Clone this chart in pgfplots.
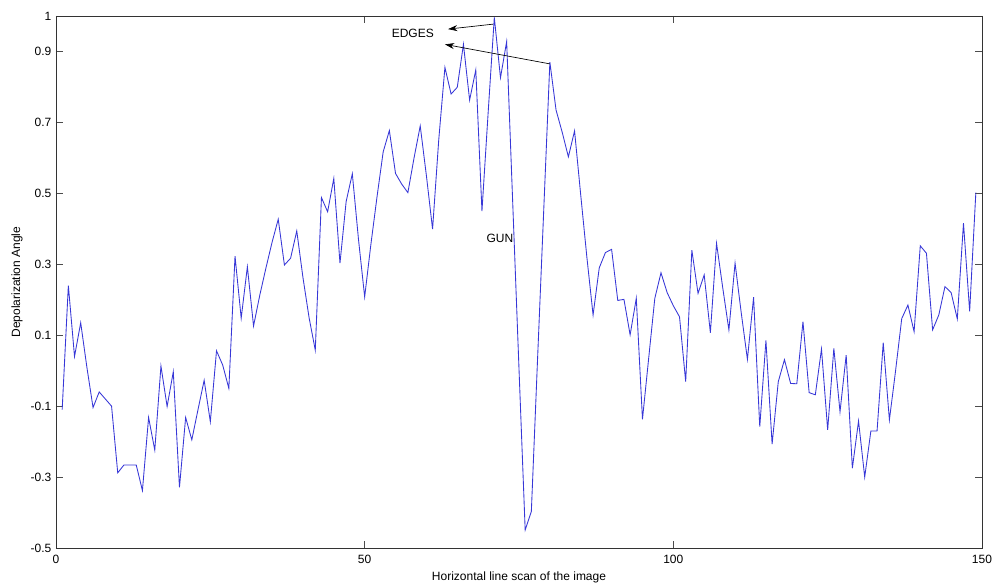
\documentclass[border=0pt]{standalone}
\usepackage{fontspec}
\setmainfont{Liberation Sans}
\usepackage{pgfplots}
\pgfplotsset{compat=1.18}
\usetikzlibrary{arrows.meta}
\definecolor{scanblue}{RGB}{55,55,215}

\begin{document}
\begin{tikzpicture}
\begin{axis}[
  scale only axis,
  width=694.5pt, height=399pt,
  xmin=0, xmax=150, ymin=-0.5, ymax=1,
  xtick={0,50,100,150},
  xticklabels={0,50,100,150},
  ytick={-0.5,-0.3,-0.1,0.1,0.3,0.5,0.7,0.9,1},
  yticklabels={-0.5,-0.3,-0.1,0.1,0.3,0.5,0.7,0.9,1},
  tick align=inside,
  major tick length=5pt,
  axis line style={black!80, line width=0.6pt},
  tick style={black!70, line width=0.6pt},
  tick label style={font=\fontsize{9}{10}\selectfont},
  label style={font=\fontsize{9}{10}\selectfont},
  xticklabel style={yshift=-1.5pt},
  xlabel={Horizontal line scan of the image},
  ylabel={Depolarization Angle},
  xlabel style={at={(axis description cs:0.5,-0.0545)}, anchor=center},
  ylabel style={at={(axis description cs:-0.042,0.5)}, anchor=center},
]
\coordinate (bl) at (rel axis cs:0,0);
\coordinate (tr) at (rel axis cs:1,1);

% depolarization angle along one horizontal scan line
\addplot[color=scanblue, line width=0.65pt, mark=none] coordinates {
  (1,-0.11) (2,0.24) (3,0.04) (4,0.135) (5,0.01) (6,-0.104) (7,-0.06) (8,-0.08)
  (9,-0.10) (10,-0.288) (11,-0.266) (12,-0.266) (13,-0.266) (14,-0.338) (15,-0.132)
  (16,-0.224) (17,0.013) (18,-0.101) (19,-0.003) (20,-0.329) (21,-0.132) (22,-0.195)
  (23,-0.11) (24,-0.027) (25,-0.144) (26,0.056) (27,0.016) (28,-0.050) (29,0.323)
  (30,0.148) (31,0.293) (32,0.126) (33,0.212) (34,0.289) (35,0.362) (36,0.427)
  (37,0.298) (38,0.317) (39,0.394) (40,0.263) (41,0.149) (42,0.058) (43,0.488)
  (44,0.448) (45,0.542) (46,0.303) (47,0.477) (48,0.555) (49,0.37) (50,0.208)
  (51,0.355) (52,0.49) (53,0.617) (54,0.677) (55,0.556) (56,0.526) (57,0.502)
  (58,0.60) (59,0.690) (60,0.55) (61,0.399) (62,0.651) (63,0.855) (64,0.78)
  (65,0.799) (66,0.92) (67,0.763) (68,0.848) (69,0.450) (70,0.727) (71,0.996)
  (72,0.826) (73,0.928) (74,0.465) (75,0.005) (76,-0.449) (77,-0.397) (78,0.03)
  (79,0.45) (80,0.87) (81,0.735) (82,0.672) (83,0.603) (84,0.676) (85,0.495)
  (86,0.319) (87,0.157) (88,0.29) (89,0.333) (90,0.342) (91,0.198) (92,0.201)
  (93,0.101) (94,0.204) (95,-0.137) (96,0.034) (97,0.204) (98,0.276) (99,0.22)
  (100,0.183) (101,0.152) (102,-0.031) (103,0.340) (104,0.218) (105,0.27)
  (106,0.107) (107,0.359) (108,0.234) (109,0.115) (110,0.303) (111,0.163)
  (112,0.032) (113,0.207) (114,-0.158) (115,0.085) (116,-0.207) (117,-0.031)
  (118,0.031) (119,-0.036) (120,-0.037) (121,0.138) (122,-0.062) (123,-0.068)
  (124,0.061) (125,-0.167) (126,0.063) (127,-0.116) (128,0.044) (129,-0.275)
  (130,-0.142) (131,-0.30) (132,-0.17) (133,-0.17) (134,0.079) (135,-0.139)
  (136,0.0) (137,0.147) (138,0.185) (139,0.11) (140,0.352) (141,0.331)
  (142,0.115) (143,0.157) (144,0.237) (145,0.22) (146,0.146) (147,0.416)
  (148,0.167) (149,0.502)
};

% annotations
\draw[black, line width=0.5pt, -{Stealth[length=7pt,width=4.5pt]}]
  (axis cs:70.8,0.977) -- (axis cs:63.5,0.963);
\draw[black, line width=0.5pt, -{Stealth[length=7pt,width=4.5pt]}]
  (axis cs:80.0,0.865) -- (axis cs:63.0,0.920);
\node[font=\fontsize{9}{10}\selectfont] at (axis cs:57.8,0.952) {EDGES};
\node[font=\fontsize{9}{10}\selectfont] at (axis cs:71.9,0.374) {GUN};
\end{axis}
\pgfresetboundingbox
\path[use as bounding box] ([xshift=-42pt,yshift=-28.5pt]bl) rectangle ([xshift=13.5pt,yshift=12pt]tr);
\end{tikzpicture}
\end{document}
